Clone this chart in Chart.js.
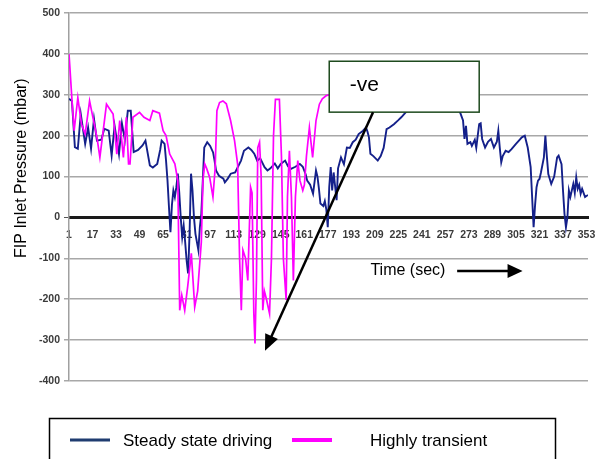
<!DOCTYPE html>
<html>
<head>
<meta charset="utf-8">
<script src="https://cdn.jsdelivr.net/npm/chart.js@4.4.0/dist/chart.umd.min.js"></script>
<style>
    html, body { margin: 0; padding: 0; background: #fff; overflow: hidden; }
    #wrap { width: 610px; height: 459px; }
</style>
</head>
<body>
<div id="wrap"><canvas id="chart" width="610" height="459"></canvas></div>
<script>
const SERIES = ["Steady state driving", "Highly transient"];
const Y_TITLE = "FIP Inlet Pressure (mbar)";
const TICKS = [1, 17, 33, 49, 65, 81, 97, 113, 129, 145, 161, 177, 193, 209, 225, 241, 257, 273, 289, 305, 321, 337, 353];

// steady state driving: time (sec) / pressure (mbar)
const steadyT = [1, 3, 5, 7, 9, 12, 14, 16, 18, 20, 23, 25, 28, 30, 32, 35, 37, 39, 41, 43, 45, 48, 51, 53, 56, 58, 61, 63, 64, 66,
    67, 68, 69, 70, 71, 72, 73, 74, 75, 76, 77, 78, 79, 80, 81, 82, 83, 84, 85, 86, 87, 89, 90, 91, 92, 93, 95, 97, 99, 100,
    101, 103, 106, 107, 109, 111, 114, 118, 120, 123, 125, 127, 129, 131, 134, 136, 138, 141, 143, 145, 148, 150, 152, 155, 158, 160, 162, 163, 165, 167,
    169, 170, 171, 172, 174, 175, 176, 177, 178, 179, 180, 181, 183, 184, 186, 188, 190, 192, 194, 196, 198, 201, 203, 204, 205, 206, 208, 211, 213, 215,
    217, 219, 222, 225, 227, 230, 235, 240, 245, 250, 255, 260, 265, 267, 269, 270, 271, 272, 274, 275, 277, 278, 279, 280, 281, 282, 284, 286, 288, 290,
    292, 293, 294, 295, 296, 298, 300, 302, 305, 307, 309, 311, 313, 315, 317, 318, 319, 320, 321, 322, 324, 325, 326, 327, 329, 331, 333, 334, 336, 337,
    338, 339, 340, 341, 342, 344, 345, 346, 347, 348, 349, 350, 352, 354];
const steadyP = [290, 285, 172, 168, 253, 180, 220, 168, 241, 188, 190, 217, 212, 151, 224, 155, 230, 190, 261, 261, 160, 165, 176, 188, 127, 122, 131, 165, 188, 180,
    139, 90, 25, -36, 30, 66, 50, 74, 107, 60, 0, -48, -20, -60, -105, -137, -40, 107, 66, 0, -40, -80, -24, 9, 90, 171, 184, 175, 159, 139,
    115, 102, 95, 86, 95, 107, 110, 139, 163, 171, 165, 156, 139, 145, 123, 115, 120, 132, 120, 131, 139, 125, 119, 124, 131, 124, 105, 90, 80, 58,
    115, 100, 70, 34, 28, 40, 20, -24, 74, 123, 66, 110, 42, 120, 147, 130, 171, 170, 184, 190, 204, 212, 220, 210, 196, 156, 150, 139, 150, 170,
    216, 220, 228, 238, 245, 257, 275, 290, 300, 305, 300, 295, 280, 257, 237, 192, 224, 180, 184, 175, 190, 170, 200, 228, 230, 192, 171, 185, 192, 171,
    185, 212, 170, 135, 150, 163, 160, 167, 180, 188, 196, 200, 171, 123, -24, 30, 74, 90, 94, 110, 147, 200, 150, 106, 82, 100, 147, 151, 130, 66,
    9, -24, 0, 66, 50, 82, 60, 98, 70, 80, 58, 70, 50, 55];

// highly transient: time (sec) / pressure (mbar)
const transientT = [1, 3.5, 4.5, 7, 9.5, 12, 15, 20, 22, 26.5, 31, 33.5, 35.5, 38, 40, 41.5, 42.5, 44.5, 49, 52,
    56, 58, 62.5, 65, 67, 69.5, 73, 75, 76.3, 77.7, 79.7, 81.7, 84.2, 86.5, 88.5, 91, 92.1, 93.3, 94.6, 96.7,
    98.9, 100.4, 101.6, 103.4, 105.7, 108, 110.9, 113.6, 115.7, 117, 118.2, 119.3, 121.1, 122.6, 124.5, 125.5, 126.7, 127.5, 128.5, 129.4,
    130.6, 131.7, 132.8, 133.9, 135.3, 137.4, 138.7, 140.1, 141.4, 144.1, 145.5, 146.8, 148.7, 149.6, 150.9, 152.3, 153.6, 155, 156.6, 158.1,
    160, 161.1, 162.5, 164.5, 166.7, 169, 171.3, 173.3, 176, 178, 181];
const transientP = [400, 261, 212, 293, 228, 204, 285, 196, 147, 277, 253, 155, 237, 147, 245, 131, 131, 245, 257, 245,
    237, 261, 255, 212, 200, 155, 131, 90, -227, -190, -227, -170, -88, -219, -180, -60, 90, 131, 120, 98,
    50, 120, 261, 281, 285, 278, 237, 188, 130, -97, -227, -80, -100, -154, 74, 60, -234, -308, -150, 171,
    184, 100, -227, -180, -200, -235, -100, 200, 289, 289, 150, -100, -202, 50, 163, 50, -154, 50, 139, 90,
    66, 80, 150, 220, 147, 237, 277, 290, 298, 300, 300];

// annotations, in axis units
const NOTE = { text: "-ve", x0: 178, x1: 280, top: 382, bottom: 257.5, tx: 192, ty: 323 };
const NOTE_ARROW = { x0: 207.8, y0: 257.5, x1: 134.3, y1: -326 };
const TIME_NOTE = { text: "Time (sec)", x: 206, y: -129, ax0: 265, ax1: 309.5, ay: -131 };

const FONT = "Arial, 'Liberation Sans', sans-serif";

function pts(xs, ys) {
    return xs.map((t, i) => ({ x: t, y: ys[i] }));
}

function arrow(ctx, x1, y1, x2, y2, len, half) {
    const a = Math.atan2(y2 - y1, x2 - x1);
    const c = Math.cos(a), s = Math.sin(a);
    ctx.beginPath();
    ctx.moveTo(x1, y1);
    ctx.lineTo(x2 - c * len * 0.7, y2 - s * len * 0.7);
    ctx.stroke();
    ctx.beginPath();
    ctx.moveTo(x2, y2);
    ctx.lineTo(x2 - len * c + half * s, y2 - len * s - half * c);
    ctx.lineTo(x2 - len * c - half * s, y2 - len * s + half * c);
    ctx.closePath();
    ctx.fill();
}

const notes = {
    id: "notes",
    afterDraw(chart) {
        const { ctx, scales: { x, y } } = chart;
        ctx.save();

        // -ve callout box
        const bx0 = x.getPixelForValue(NOTE.x0), bx1 = x.getPixelForValue(NOTE.x1);
        const by0 = y.getPixelForValue(NOTE.top), by1 = y.getPixelForValue(NOTE.bottom);
        ctx.fillStyle = "#fff";
        ctx.fillRect(bx0, by0, bx1 - bx0, by1 - by0);
        ctx.strokeStyle = "#1e4a1e";
        ctx.lineWidth = 1.5;
        ctx.strokeRect(bx0, by0, bx1 - bx0, by1 - by0);
        ctx.fillStyle = "#000";
        ctx.font = "21px " + FONT;
        ctx.textBaseline = "middle";
        ctx.textAlign = "left";
        ctx.fillText(NOTE.text, x.getPixelForValue(NOTE.tx), y.getPixelForValue(NOTE.ty));

        ctx.strokeStyle = "#000";
        ctx.lineWidth = 2.5;
        arrow(ctx, x.getPixelForValue(NOTE_ARROW.x0), y.getPixelForValue(NOTE_ARROW.y0),
            x.getPixelForValue(NOTE_ARROW.x1), y.getPixelForValue(NOTE_ARROW.y1), 16, 7);

        // time label + arrow
        ctx.font = "16px " + FONT;
        ctx.fillText(TIME_NOTE.text, x.getPixelForValue(TIME_NOTE.x), y.getPixelForValue(TIME_NOTE.y));
        const ay = y.getPixelForValue(TIME_NOTE.ay);
        arrow(ctx, x.getPixelForValue(TIME_NOTE.ax0), ay, x.getPixelForValue(TIME_NOTE.ax1), ay, 15, 7);

        // legend box
        ctx.strokeStyle = "#000";
        ctx.lineWidth = 1.5;
        ctx.strokeRect(49.5, 418.5, 506, 60);
        const items = [{ x: 70, tx: 123, w: 3 }, { x: 292, tx: 370, w: 4 }];
        ctx.font = "17px " + FONT;
        chart.data.datasets.forEach((ds, i) => {
            const it = items[i];
            ctx.strokeStyle = ds.legendColor || ds.borderColor;
            ctx.lineWidth = it.w;
            ctx.beginPath();
            ctx.moveTo(it.x, 440);
            ctx.lineTo(it.x + 40, 440);
            ctx.stroke();
            ctx.fillStyle = "#000";
            ctx.fillText(ds.label, it.tx, 441);
        });
        ctx.restore();
    }
};

new Chart(document.getElementById("chart"), {
    type: "line",
    data: {
        datasets: [{
            label: SERIES[0],
            data: pts(steadyT, steadyP),
            borderColor: "#14208a",
            legendColor: "#1f3c70",
            borderWidth: 1.9,
            order: 1
        }, {
            label: SERIES[1],
            data: pts(transientT, transientP),
            borderColor: "#ff00ff",
            borderWidth: 1.7,
            order: 0
        }]
    },
    options: {
        responsive: false,
        animation: false,
        devicePixelRatio: 1,
        layout: { padding: { left: 0, top: 13, right: 22, bottom: 78 } },
        elements: { point: { radius: 0 }, line: { tension: 0 } },
        plugins: { legend: { display: false }, tooltip: { enabled: false } },
        scales: {
            x: {
                type: "linear",
                position: { y: 0 },
                min: 1,
                max: 354,
                afterBuildTicks: s => { s.ticks = TICKS.map(v => ({ value: v })); },
                afterFit: s => { s.height = 0; },
                grid: { display: false, tickLength: 8 },
                border: { display: true, color: "#1a1a1a", width: 3, dash: [2, 1] },
                ticks: {
                    autoSkip: false, maxRotation: 0, minRotation: 0, padding: 3,
                    color: "#3a3a3a",
                    font: { family: FONT, size: 10.5, weight: "bold" }
                }
            },
            y: {
                min: -400,
                max: 500,
                afterFit: s => { s.width = 69; },
                ticks: {
                    stepSize: 100, padding: 4, color: "#3a3a3a",
                    font: { family: FONT, size: 10.5, weight: "bold" }
                },
                grid: {
                    tickLength: 5,
                    color: c => c.tick && c.tick.value === 0 ? "#555" : "#a8a8a8",
                    lineWidth: c => c.tick && c.tick.value === 0 ? 1 : 1.5
                },
                border: { color: "#a0a0a0", width: 1.5 },
                title: {
                    display: true,
                    text: "             " + Y_TITLE,
                    color: "#000",
                    padding: { top: 12, bottom: 0 },
                    font: { family: FONT, size: 16 }
                }
            }
        }
    },
    plugins: [notes]
});
</script>
</body>
</html>
